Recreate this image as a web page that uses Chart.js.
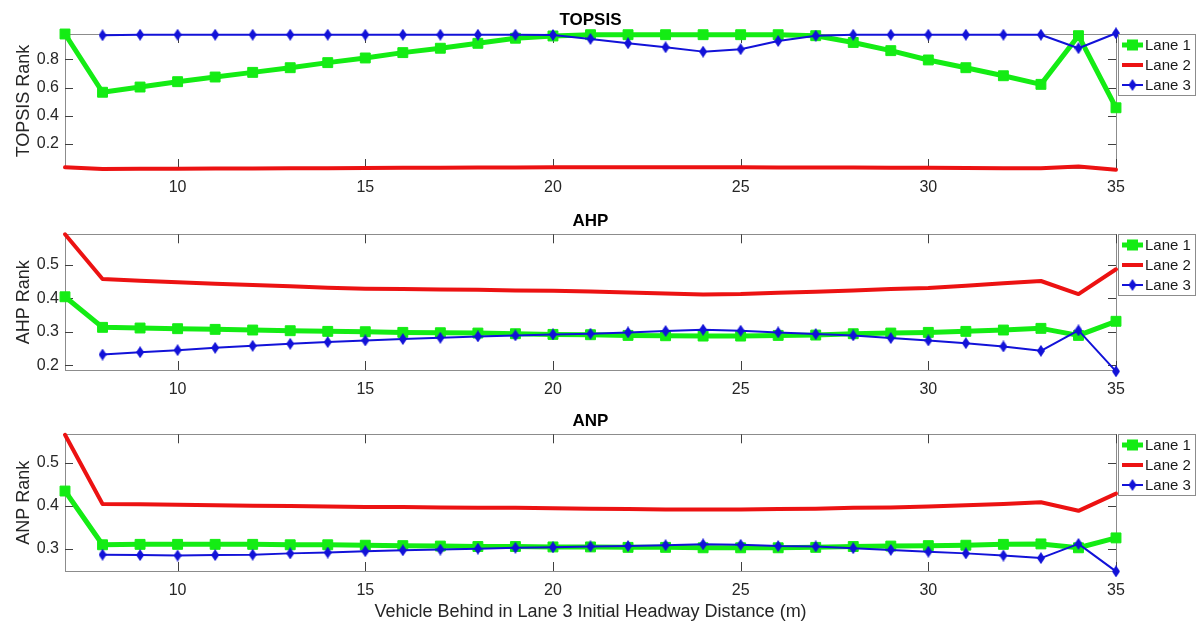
<!DOCTYPE html>
<html>
<head>
<meta charset="utf-8">
<script src="https://cdn.jsdelivr.net/npm/chart.js@4.4.1/dist/chart.umd.min.js"></script>
<style>
  html, body { margin: 0; padding: 0; background: #fff; }
  body { width: 1196px; height: 623px; position: relative; overflow: hidden; }
  canvas { position: absolute; left: 0; }
</style>
</head>
<body>
<canvas id="topsis" width="1196" height="200" style="top:0px"></canvas>
<canvas id="ahp" width="1196" height="200" style="top:200px"></canvas>
<canvas id="anp" width="1196" height="223" style="top:400px"></canvas>
<script>
// Initial headway distance of the vehicle behind in lane 3 (m)
const distance = [7, 8, 9, 10, 11, 12, 13, 14, 15, 16, 17, 18, 19, 20, 21,
                  22, 23, 24, 25, 26, 27, 28, 29, 30, 31, 32, 33, 34, 35];
const xTicks = [10, 15, 20, 25, 30, 35];

// TOPSIS rank per lane
const topsisLane1 = [0.980, 0.567, 0.604, 0.642, 0.675, 0.708, 0.741, 0.777, 0.810, 0.848,
                     0.879, 0.914, 0.950, 0.966, 0.975, 0.975, 0.975, 0.975, 0.975, 0.975,
                     0.968, 0.920, 0.862, 0.796, 0.741, 0.684, 0.623, 0.968, 0.457];
const topsisLane2 = [0.035, 0.023, 0.024, 0.025, 0.026, 0.027, 0.028, 0.029, 0.030, 0.031,
                     0.032, 0.033, 0.034, 0.035, 0.035, 0.035, 0.035, 0.035, 0.035, 0.034,
                     0.034, 0.033, 0.032, 0.031, 0.030, 0.029, 0.028, 0.040, 0.018];
const topsisLane3 = [null, 0.971, 0.975, 0.975, 0.975, 0.975, 0.975, 0.975, 0.975, 0.975,
                     0.975, 0.975, 0.975, 0.973, 0.945, 0.914, 0.886, 0.855, 0.872, 0.930,
                     0.968, 0.975, 0.975, 0.975, 0.975, 0.975, 0.975, 0.879, 0.985];
const topsisTicks = [0.2, 0.4, 0.6, 0.8];

// AHP rank per lane
const ahpLane1 = [0.404, 0.313, 0.311, 0.309, 0.307, 0.305, 0.303, 0.301, 0.300, 0.298,
                  0.297, 0.296, 0.294, 0.292, 0.291, 0.289, 0.288, 0.287, 0.287, 0.289,
                  0.290, 0.294, 0.296, 0.298, 0.301, 0.305, 0.310, 0.289, 0.331];
const ahpLane2 = [0.590, 0.457, 0.452, 0.447, 0.443, 0.439, 0.435, 0.431, 0.428, 0.427,
                  0.426, 0.425, 0.423, 0.422, 0.420, 0.417, 0.414, 0.411, 0.412, 0.416,
                  0.419, 0.423, 0.427, 0.430, 0.437, 0.444, 0.451, 0.412, 0.486];
const ahpLane3 = [null, 0.232, 0.239, 0.245, 0.252, 0.258, 0.264, 0.269, 0.274, 0.278,
                  0.282, 0.286, 0.289, 0.292, 0.294, 0.298, 0.302, 0.306, 0.303, 0.298,
                  0.293, 0.289, 0.281, 0.274, 0.266, 0.256, 0.243, 0.304, 0.182];
const ahpTicks = [0.2, 0.3, 0.4, 0.5];

// ANP rank per lane
const anpLane1 = [0.434, 0.309, 0.310, 0.310, 0.310, 0.310, 0.309, 0.309, 0.308, 0.307,
                  0.306, 0.305, 0.305, 0.304, 0.304, 0.303, 0.303, 0.302, 0.302, 0.302,
                  0.303, 0.305, 0.306, 0.307, 0.308, 0.310, 0.311, 0.302, 0.325];
const anpLane2 = [0.565, 0.404, 0.403, 0.402, 0.401, 0.400, 0.399, 0.398, 0.397, 0.397,
                  0.396, 0.395, 0.395, 0.394, 0.393, 0.392, 0.391, 0.391, 0.391, 0.392,
                  0.393, 0.395, 0.396, 0.398, 0.401, 0.404, 0.408, 0.388, 0.428];
const anpLane3 = [null, 0.286, 0.285, 0.284, 0.285, 0.286, 0.289, 0.291, 0.294, 0.296,
                  0.298, 0.300, 0.302, 0.303, 0.305, 0.306, 0.308, 0.310, 0.309, 0.306,
                  0.305, 0.301, 0.297, 0.293, 0.289, 0.284, 0.278, 0.311, 0.247];
const anpTicks = [0.3, 0.4, 0.5];

const GREEN = '#14ec14';
const RED = '#ec1212';
const BLUE = '#1212d8';
const FONT = "'Liberation Sans', Arial, Helvetica, sans-serif";

Chart.defaults.font.family = FONT;
Chart.defaults.color = '#262626';

// Narrow diamond marker for lane 3
function diamondMarker(color, w, h) {
  const c = document.createElement('canvas');
  c.width = w; c.height = h;
  const g = c.getContext('2d');
  g.beginPath();
  g.moveTo(w / 2, 0); g.lineTo(w, h / 2); g.lineTo(w / 2, h); g.lineTo(0, h / 2);
  g.closePath();
  g.fillStyle = color;
  g.fill();
  return c;
}
const diamond = diamondMarker(BLUE, 8, 12);

function points(values) {
  return distance.map((d, i) => ({ x: d, y: values[i] }));
}

// Axes box with inward tick marks on all four sides
const framePlugin = {
  id: 'frame',
  beforeDatasetsDraw(chart) {
    const { ctx, chartArea: a, scales } = chart;
    ctx.save();
    ctx.lineWidth = 1;
    ctx.strokeStyle = '#8c8c8c';
    ctx.strokeRect(Math.round(a.left) + 0.5, Math.round(a.top) + 0.5,
                   Math.round(a.right - a.left), Math.round(a.bottom - a.top));
    ctx.strokeStyle = '#404040';
    ctx.beginPath();
    scales.x.ticks.forEach(t => {
      const px = Math.round(scales.x.getPixelForValue(t.value)) + 0.5;
      ctx.moveTo(px, a.bottom); ctx.lineTo(px, a.bottom - 9);
      ctx.moveTo(px, a.top); ctx.lineTo(px, a.top + 9);
    });
    scales.y.ticks.forEach(t => {
      const py = Math.round(scales.y.getPixelForValue(t.value)) + 0.5;
      ctx.moveTo(a.left, py); ctx.lineTo(a.left + 8, py);
      ctx.moveTo(a.right, py); ctx.lineTo(a.right - 8, py);
    });
    ctx.stroke();
    ctx.restore();
  }
};

// Boxed legend to the right of the axes
const legendPlugin = {
  id: 'laneLegend',
  afterDraw(chart) {
    const { ctx, chartArea: a } = chart;
    const x0 = Math.round(a.right) + 2, y0 = Math.round(a.top);
    const w = 77, h = 61;
    ctx.save();
    ctx.fillStyle = '#fff';
    ctx.fillRect(x0, y0, w, h);
    ctx.strokeStyle = '#8c8c8c';
    ctx.lineWidth = 1;
    ctx.strokeRect(x0 + 0.5, y0 + 0.5, w, h);
    chart.data.datasets.forEach((ds, i) => {
      const yy = y0 + 11 + 20 * i;
      ctx.strokeStyle = ds.borderColor;
      ctx.lineWidth = ds.borderWidth;
      ctx.beginPath();
      ctx.moveTo(x0 + 4, yy); ctx.lineTo(x0 + 25, yy);
      ctx.stroke();
      const cx = x0 + 14.5;
      if (ds.pointStyle === 'rect') {
        ctx.fillStyle = ds.pointBackgroundColor;
        ctx.fillRect(cx - 5.5, yy - 5.5, 11, 11);
      } else if (ds.pointStyle instanceof HTMLCanvasElement) {
        ctx.drawImage(ds.pointStyle, cx - ds.pointStyle.width / 2, yy - ds.pointStyle.height / 2);
      }
      ctx.fillStyle = '#1a1a1a';
      ctx.font = '15px ' + FONT;
      ctx.textBaseline = 'middle';
      ctx.textAlign = 'left';
      ctx.fillText(ds.label, x0 + 27, yy + 1);
    });
    ctx.restore();
  }
};

function makePanel(id, p) {
  return new Chart(document.getElementById(id), {
    type: 'line',
    data: {
      datasets: [
        { label: 'Lane 1', data: points(p.lane1), borderColor: GREEN, backgroundColor: GREEN,
          borderWidth: 5, pointStyle: 'rect', pointRadius: 7, pointBorderWidth: 1,
          pointBackgroundColor: GREEN, pointBorderColor: GREEN, order: 2, clip: false },
        { label: 'Lane 2', data: points(p.lane2), borderColor: RED, backgroundColor: RED,
          borderWidth: 4, pointRadius: 0, order: 1, clip: false },
        { label: 'Lane 3', data: points(p.lane3), borderColor: BLUE, backgroundColor: BLUE,
          borderWidth: 2, pointStyle: diamond, pointRadius: 5, order: 0, clip: false }
      ]
    },
    options: {
      responsive: false,
      animation: false,
      devicePixelRatio: 1,
      events: [],
      layout: { padding: { left: 0, right: 80, top: 0, bottom: 0 } },
      elements: { line: { tension: 0, borderJoinStyle: 'round', borderCapStyle: 'round' } },
      plugins: {
        legend: { display: false },
        tooltip: { enabled: false },
        title: {
          display: true, text: p.title, fullSize: false, color: '#000',
          font: { size: 17, weight: 'bold', family: FONT },
          padding: { top: p.titleTop, bottom: p.titleBottom }
        }
      },
      scales: {
        x: {
          type: 'linear', min: 7, max: 35,
          grid: { display: false, drawTicks: false },
          border: { display: false },
          afterBuildTicks: s => { s.ticks = xTicks.map(v => ({ value: v })); },
          afterFit: s => { s.height = p.xHeight; },
          ticks: { font: { size: 16 }, color: '#262626', padding: 10, maxRotation: 0,
                   autoSkip: false, callback: v => String(v) },
          title: { display: !!p.xTitle, text: p.xTitle || '', color: '#262626',
                   font: { size: 18 }, padding: { top: 0, bottom: 0 } }
        },
        y: {
          type: 'linear', min: p.yMin, max: p.yMax,
          grid: { display: false, drawTicks: false },
          border: { display: false },
          afterBuildTicks: s => { s.ticks = p.yTicks.map(v => ({ value: v })); },
          afterFit: s => { s.width = 65; },
          ticks: { font: { size: 16 }, color: '#262626', padding: 6,
                   autoSkip: false, callback: v => v.toFixed(1) },
          title: { display: true, text: p.yLabel, color: '#262626',
                   font: { size: 18 }, padding: { top: 13, bottom: 0 } }
        }
      }
    },
    plugins: [framePlugin, legendPlugin]
  });
}

makePanel('topsis', {
  title: 'TOPSIS', yLabel: 'TOPSIS Rank',
  lane1: topsisLane1, lane2: topsisLane2, lane3: topsisLane3,
  yMin: 0.03, yMax: 0.98, yTicks: topsisTicks,
  titleTop: 10.5, titleBottom: 3.1, xHeight: 32
});
makePanel('ahp', {
  title: 'AHP', yLabel: 'AHP Rank',
  lane1: ahpLane1, lane2: ahpLane2, lane3: ahpLane3,
  yMin: 0.186, yMax: 0.59, yTicks: ahpTicks,
  titleTop: 11, titleBottom: 2.9, xHeight: 30
});
makePanel('anp', {
  title: 'ANP', yLabel: 'ANP Rank',
  lane1: anpLane1, lane2: anpLane2, lane3: anpLane3,
  yMin: 0.248, yMax: 0.566, yTicks: anpTicks,
  titleTop: 11, titleBottom: 2.9, xHeight: 52,
  xTitle: 'Vehicle Behind in Lane 3 Initial Headway Distance (m)'
});
</script>
</body>
</html>
